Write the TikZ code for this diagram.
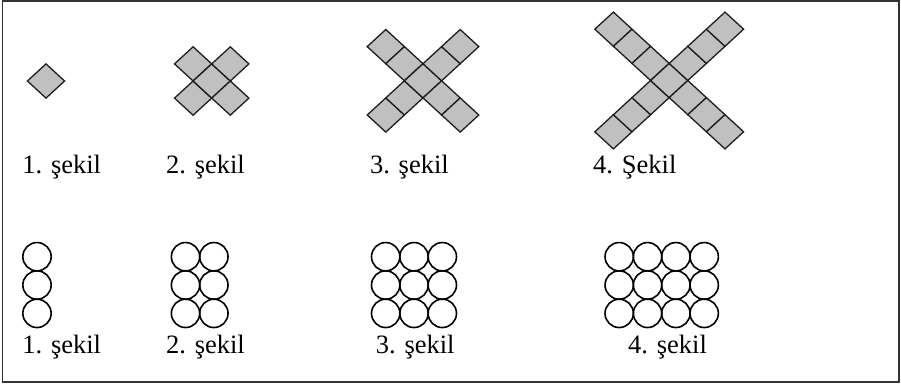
\documentclass[tikz,border=0pt]{standalone}
\usepackage{fontspec}
\setmainfont{Liberation Serif}
\definecolor{sqgray}{RGB}{192,192,192}
\definecolor{edge}{RGB}{30,30,30}
\begin{document}
\begin{tikzpicture}[x=1pt,y=-1pt,
  sq/.style={draw=edge, fill=sqgray, line width=1.3pt, line join=miter},
  ring/.style={draw=black, line width=1.6pt},
  lbl/.style={anchor=base west, inner sep=0pt, font=\fontsize{26.5}{30}\selectfont},
  frame/.style={draw=black!80, line width=1.8pt},
  dia/.pic={\draw[sq] (-18.6,0) -- (0,-17.1) -- (18.6,0) -- (0,17.1) -- cycle;}]
\useasboundingbox (0,0) rectangle (901,384);
\draw[frame] (2.5,1.2) rectangle (899.3,382.3);

% top row: crosses of squares
\pic at (46,81) {dia};
\foreach \k in {-1,0,1} {
  \pic at (211.7+\k*18.6, 81+\k*17.1) {dia};
  \pic at (211.7+\k*18.6, 81-\k*17.1) {dia};
}
\foreach \k in {-2,...,2} {
  \pic at (423+\k*18.6, 80.8+\k*17.1) {dia};
  \pic at (423+\k*18.6, 80.8-\k*17.1) {dia};
}
\foreach \k in {-3,...,3} {
  \pic at (669.2+\k*18.6, 80.5+\k*17.1) {dia};
  \pic at (669.2+\k*18.6, 80.5-\k*17.1) {dia};
}

\node[lbl] (t1) at (22.1,173) {1. şekil};
\node[lbl] (t2) at (165.9,173) {2. şekil};
\node[lbl] (t3) at (369.8,173) {3. şekil};
\node[lbl] (t4) at (593,173) {4. Şekil};

% bottom row: circles
\foreach \r in {0,1,2} {
  \draw[ring] (37, 256.7+\r*28.33) circle[radius=14.17];
  \foreach \c in {-1,1}
    \draw[ring] (199.7+\c*14.17, 256.7+\r*28.33) circle[radius=14.17];
  \foreach \c in {-1,0,1}
    \draw[ring] (414+\c*28.33, 256.7+\r*28.33) circle[radius=14.17];
  \foreach \c in {-3,-1,1,3}
    \draw[ring] (661.7+\c*14.17, 256.7+\r*28.33) circle[radius=14.17];
}

\node[lbl] (b1) at (22.1,353.5) {1. şekil};
\node[lbl] (b2) at (165.9,353.5) {2. şekil};
\node[lbl] (b3) at (375.6,353.5) {3. şekil};
\node[lbl] (b4) at (628,353.5) {4. şekil};
\end{tikzpicture}
\end{document}
